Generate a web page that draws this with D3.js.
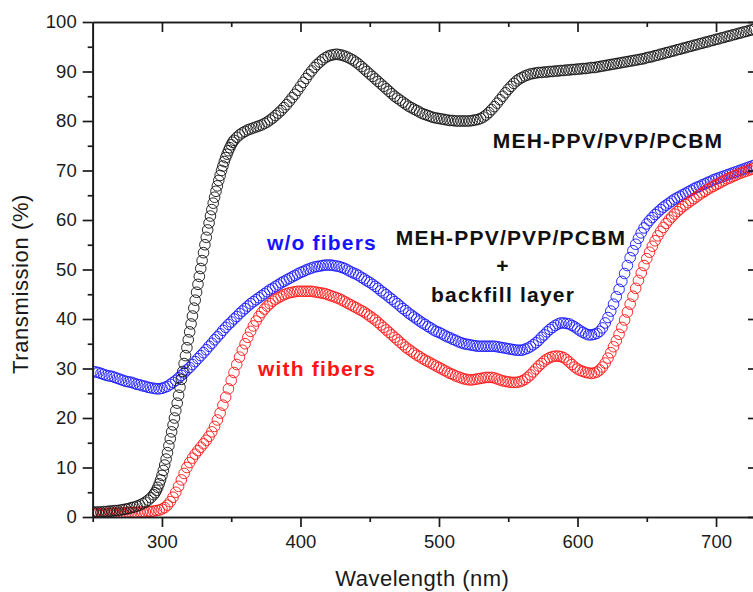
<!DOCTYPE html>
<html>
<head>
<meta charset="utf-8">
<script src="https://cdn.jsdelivr.net/npm/d3@7/dist/d3.min.js"></script>
<style>
  html, body { margin: 0; padding: 0; background: #fff; }
  svg { display: block; font-family: "Liberation Sans", Arial, sans-serif; }
  .axis path, .axis line { stroke: #1a1a1a; stroke-width: 1.7px; }
  .axis text { font-size: 18.5px; fill: #1a1a1a; font-family: "Liberation Sans", Arial, sans-serif; }
</style>
</head>
<body>
<div id="chart"></div>
<script>
// =================================================================
// DATA (transmission %)
// =================================================================
const xTicks = [300, 400, 500, 600, 700];
const xMinorTicks = [250, 350, 450, 550, 650];
const yTicks = [0, 10, 20, 30, 40, 50, 60, 70, 80, 90, 100];
const yMinorTicks = [5, 15, 25, 35, 45, 55, 65, 75, 85, 95];

// bare film: 250-294 nm every 2 nm, 295-351 nm every 1 nm, 352-728 nm every 2 nm
const bareLowStart = 250;
const bareLow = [1.0,1.0,1.0,1.0,1.1,1.1,1.2,1.2,1.3,1.3,1.4,1.5,1.6,1.7,1.9,2.0,2.2,2.4,2.7,3.0,3.4,3.9,4.5];
const bareRiseStart = 295;
const bareRise = [4.9,5.4,6.0,6.7,7.5,8.4,9.4,10.5,11.7,13.0,14.4,15.8,17.2,18.6,20.0,21.5,23.0,24.6,26.2,27.8,
  29.4,31.0,32.6,34.2,35.8,37.4,39.0,40.6,42.2,43.8,45.4,47.0,48.6,50.2,51.8,53.4,55.0,56.5,58.0,59.4,
  60.8,62.1,63.4,64.6,65.8,66.9,68.0,69.0,70.0,70.9,71.8,72.6,73.3,74.0,74.6,75.2,75.7];
const bareHighStart = 352;
const bareHigh = [76.1,76.7,77.2,77.6,77.9,78.2,78.4,78.6,78.8,79.0,79.2,79.5,79.8,80.2,80.6,81.1,81.6,82.1,82.7,83.3,
  84.0,84.7,85.4,86.2,87.0,87.8,88.6,89.4,90.1,90.8,91.4,91.9,92.4,92.8,93.1,93.3,93.4,93.5,93.4,93.3,
  93.1,92.9,92.6,92.3,91.9,91.5,91.0,90.5,90.0,89.5,89.0,88.5,88.0,87.5,87.0,86.5,86.0,85.5,85.0,84.6,
  84.2,83.8,83.4,83.0,82.7,82.4,82.1,81.8,81.5,81.3,81.1,80.9,80.7,80.6,80.5,80.4,80.3,80.2,80.1,80.1,
  80.0,80.0,80.0,80.0,80.0,80.0,80.1,80.2,80.3,80.5,80.8,81.2,81.7,82.3,82.9,83.6,84.3,85.0,85.7,86.4,
  87.0,87.6,88.1,88.5,88.8,89.1,89.3,89.5,89.6,89.7,89.8,89.8,89.9,89.9,90.0,90.0,90.1,90.1,90.2,90.2,
  90.3,90.3,90.4,90.4,90.5,90.5,90.6,90.6,90.7,90.8,90.8,90.9,91.0,91.1,91.2,91.3,91.4,91.5,91.6,91.7,
  91.8,91.9,92.0,92.1,92.2,92.3,92.4,92.5,92.6,92.8,92.9,93.0,93.2,93.3,93.5,93.6,93.8,93.9,94.1,94.2,
  94.4,94.5,94.7,94.8,95.0,95.1,95.3,95.4,95.6,95.7,95.9,96.0,96.2,96.3,96.5,96.6,96.8,96.9,97.1,97.2,
  97.4,97.5,97.7,97.8,98.0,98.1,98.3,98.4,98.6];

// with backfill layer: 250-728 nm every 2 nm
const backfillStart = 250;
const withoutFibers = [29.4,29.3,29.2,29.0,28.8,28.6,28.5,28.4,28.2,28.0,27.8,27.6,27.4,27.3,27.2,27.0,26.8,26.7,26.5,26.4,
  26.2,26.1,26.0,25.9,25.9,26.0,26.2,26.4,26.8,27.2,27.6,28.1,28.6,29.1,29.7,30.2,30.8,31.4,32.0,32.6,
  33.2,33.8,34.5,35.1,35.8,36.4,37.0,37.7,38.3,38.9,39.4,40.0,40.5,41.1,41.6,42.1,42.6,43.1,43.5,43.9,
  44.3,44.7,45.1,45.5,45.9,46.2,46.6,46.9,47.3,47.6,47.9,48.2,48.5,48.8,49.1,49.4,49.6,49.9,50.1,50.3,
  50.5,50.6,50.7,50.8,50.9,50.9,50.9,50.8,50.7,50.6,50.4,50.2,49.9,49.6,49.3,49.1,48.8,48.4,48.1,47.7,
  47.4,47.0,46.6,46.2,45.7,45.3,44.9,44.4,44.0,43.5,43.1,42.6,42.1,41.7,41.2,40.8,40.4,40.0,39.6,39.2,
  38.9,38.5,38.2,37.8,37.5,37.3,37.0,36.7,36.4,36.2,35.9,35.7,35.4,35.2,35.0,34.9,34.8,34.7,34.6,34.5,
  34.5,34.5,34.5,34.5,34.5,34.5,34.4,34.3,34.2,34.1,34.0,33.9,33.8,33.7,33.7,33.7,33.9,34.1,34.4,34.8,
  35.2,35.7,36.3,36.8,37.4,37.9,38.3,38.7,39.0,39.2,39.2,39.1,39.0,38.7,38.4,38.0,37.6,37.3,37.0,36.8,
  36.8,36.9,37.1,37.5,38.2,39.2,40.3,41.6,43.0,44.5,46.0,47.6,49.2,50.8,52.4,53.8,55.1,56.3,57.4,58.4,
  59.2,59.9,60.5,61.1,61.6,62.1,62.6,63.0,63.4,63.8,64.2,64.5,64.8,65.1,65.4,65.7,66.0,66.3,66.6,66.8,
  67.1,67.3,67.6,67.8,68.1,68.3,68.5,68.7,68.9,69.1,69.3,69.5,69.7,69.9,70.1,70.3,70.5,70.7,70.9,71.1];
const withFibers = [0.7,0.7,0.7,0.7,0.7,0.7,0.7,0.8,0.8,0.8,0.8,0.8,0.8,0.9,0.9,0.9,0.9,1.0,1.0,1.0,
  1.1,1.1,1.2,1.3,1.4,1.6,1.9,2.4,3.1,4.0,5.0,6.2,7.5,8.8,10.0,11.0,11.9,12.7,13.4,14.1,
  14.8,15.5,16.3,17.2,18.3,19.6,21.0,22.6,24.2,25.9,27.6,29.2,30.8,32.3,33.7,35.0,36.3,37.5,38.6,39.6,
  40.5,41.3,42.0,42.6,43.1,43.6,44.0,44.3,44.6,44.9,45.1,45.3,45.4,45.5,45.6,45.6,45.6,45.6,45.6,45.6,
  45.5,45.4,45.3,45.2,45.1,44.9,44.7,44.5,44.3,44.1,43.8,43.5,43.2,42.9,42.6,42.3,42.0,41.7,41.4,41.0,
  40.6,40.2,39.8,39.3,38.8,38.3,37.8,37.3,36.8,36.3,35.8,35.3,34.8,34.3,33.9,33.5,33.1,32.7,32.4,32.0,
  31.7,31.4,31.1,30.8,30.5,30.2,29.9,29.6,29.3,29.0,28.8,28.5,28.3,28.1,27.9,27.8,27.7,27.7,27.8,27.9,
  28.0,28.1,28.2,28.2,28.2,28.1,27.9,27.7,27.5,27.4,27.3,27.2,27.2,27.2,27.3,27.5,27.8,28.2,28.7,29.3,
  29.9,30.5,31.0,31.5,31.9,32.2,32.4,32.5,32.5,32.4,32.2,31.8,31.3,30.8,30.3,29.9,29.6,29.4,29.2,29.1,
  29.0,29.1,29.3,29.7,30.3,31.1,32.1,33.2,34.4,35.6,36.9,38.3,39.8,41.4,43.0,44.6,46.2,47.8,49.3,50.8,
  52.2,53.5,54.7,55.8,56.8,57.7,58.5,59.3,60.0,60.6,61.2,61.7,62.2,62.7,63.1,63.5,63.9,64.3,64.7,65.1,
  65.5,65.8,66.2,66.5,66.8,67.1,67.4,67.7,68.0,68.3,68.5,68.8,69.0,69.3,69.5,69.7,69.9,70.1,70.3,70.5];

// =================================================================
// LAYOUT
// =================================================================
const width = 753, height = 592;
const plot = { left: 92.7, right: 758, top: 22, bottom: 517 };

const svg = d3.select("#chart").append("svg")
    .attr("width", width)
    .attr("height", height);

const x = d3.scaleLinear().domain([250, 730.3]).range([plot.left, plot.right]);
const y = d3.scaleLinear().domain([0, 100]).range([plot.bottom, plot.top]);

function toPoints(start, step, values) {
    return values.map((v, i) => ({ wl: start + i * step, t: v }));
}

const bare = toPoints(bareLowStart, 2, bareLow)
    .concat(toPoints(bareRiseStart, 1, bareRise))
    .concat(toPoints(bareHighStart, 2, bareHigh));
const blue = toPoints(backfillStart, 2, withoutFibers);
const red = toPoints(backfillStart, 2, withFibers);

svg.append("clipPath").attr("id", "plot-clip")
  .append("rect")
    .attr("x", plot.left).attr("y", plot.top)
    .attr("width", plot.right - plot.left).attr("height", plot.bottom - plot.top);

// =================================================================
// SCATTER SERIES (open circles)
// =================================================================
const marks = svg.append("g").attr("clip-path", "url(#plot-clip)");

function drawSeries(data, color, fill) {
    marks.append("g").selectAll("circle")
        .data(data)
        .join("circle")
        .attr("cx", d => x(d.wl))
        .attr("cy", d => y(d.t))
        .attr("r", 5.3)
        .attr("fill", fill)
        .attr("stroke", color)
        .attr("stroke-width", 0.9);
}

drawSeries(blue, "#1414ff", "none");
drawSeries(red, "#ff1414", "none");
drawSeries(bare, "#111", "none");

// =================================================================
// AXES
// =================================================================
svg.append("g").attr("class", "axis")
    .attr("transform", `translate(0,${plot.bottom})`)
    .call(d3.axisBottom(x).tickValues(xTicks).tickSize(10).tickPadding(8).tickSizeOuter(0));
svg.append("g").attr("class", "axis")
    .attr("transform", `translate(0,${plot.bottom})`)
    .call(d3.axisBottom(x).tickValues(xMinorTicks).tickSize(5).tickFormat("").tickSizeOuter(0));

svg.append("g").attr("class", "axis")
    .attr("transform", `translate(0,${plot.top})`)
    .call(d3.axisTop(x).tickValues(xTicks).tickSize(-10).tickFormat("").tickSizeOuter(0));
svg.append("g").attr("class", "axis")
    .attr("transform", `translate(0,${plot.top})`)
    .call(d3.axisTop(x).tickValues(xMinorTicks.slice(1)).tickSize(-5).tickFormat("").tickSizeOuter(0));

svg.append("g").attr("class", "axis")
    .attr("transform", `translate(${plot.left},0)`)
    .call(d3.axisLeft(y).tickValues(yTicks).tickSize(10).tickPadding(6).tickSizeOuter(0));
svg.append("g").attr("class", "axis")
    .attr("transform", `translate(${plot.left},0)`)
    .call(d3.axisLeft(y).tickValues(yMinorTicks).tickSize(5).tickFormat("").tickSizeOuter(0));

svg.append("g").attr("class", "axis")
    .attr("transform", `translate(${plot.right},0)`)
    .call(d3.axisRight(y).tickValues(yTicks).tickSize(-10).tickFormat("").tickSizeOuter(0));
svg.append("g").attr("class", "axis")
    .attr("transform", `translate(${plot.right},0)`)
    .call(d3.axisRight(y).tickValues(yMinorTicks).tickSize(-5).tickFormat("").tickSizeOuter(0));

// axis titles
svg.append("text")
    .attr("x", (plot.left + plot.right) / 2 - 3)
    .attr("y", 586)
    .attr("text-anchor", "middle")
    .style("font-size", "22px")
    .style("letter-spacing", "0.5px")
    .style("fill", "#1a1a1a")
    .text("Wavelength (nm)");

svg.append("text")
    .attr("transform", "translate(28,284) rotate(-90)")
    .attr("text-anchor", "middle")
    .style("font-size", "22px")
    .style("letter-spacing", "0.6px")
    .style("fill", "#1a1a1a")
    .text("Transmission (%)");

// =================================================================
// ANNOTATIONS
// =================================================================
const labels = [
    { text: "MEH-PPV/PVP/PCBM", x: 608, y: 148, color: "#111" },
    { text: "MEH-PPV/PVP/PCBM", x: 511, y: 245, color: "#111" },
    { text: "+", x: 503, y: 273, color: "#111" },
    { text: "backfill layer", x: 503, y: 302, color: "#111" },
    { text: "w/o fibers", x: 322, y: 250, color: "#1414ff" },
    { text: "with fibers", x: 317, y: 376, color: "#ff1414" }
];

svg.append("g").selectAll("text")
    .data(labels)
    .join("text")
    .attr("x", d => d.x)
    .attr("y", d => d.y)
    .attr("text-anchor", "middle")
    .style("font-size", "21px")
    .style("font-weight", "bold")
    .style("letter-spacing", "1.2px")
    .style("fill", d => d.color)
    .text(d => d.text);
</script>
</body>
</html>
